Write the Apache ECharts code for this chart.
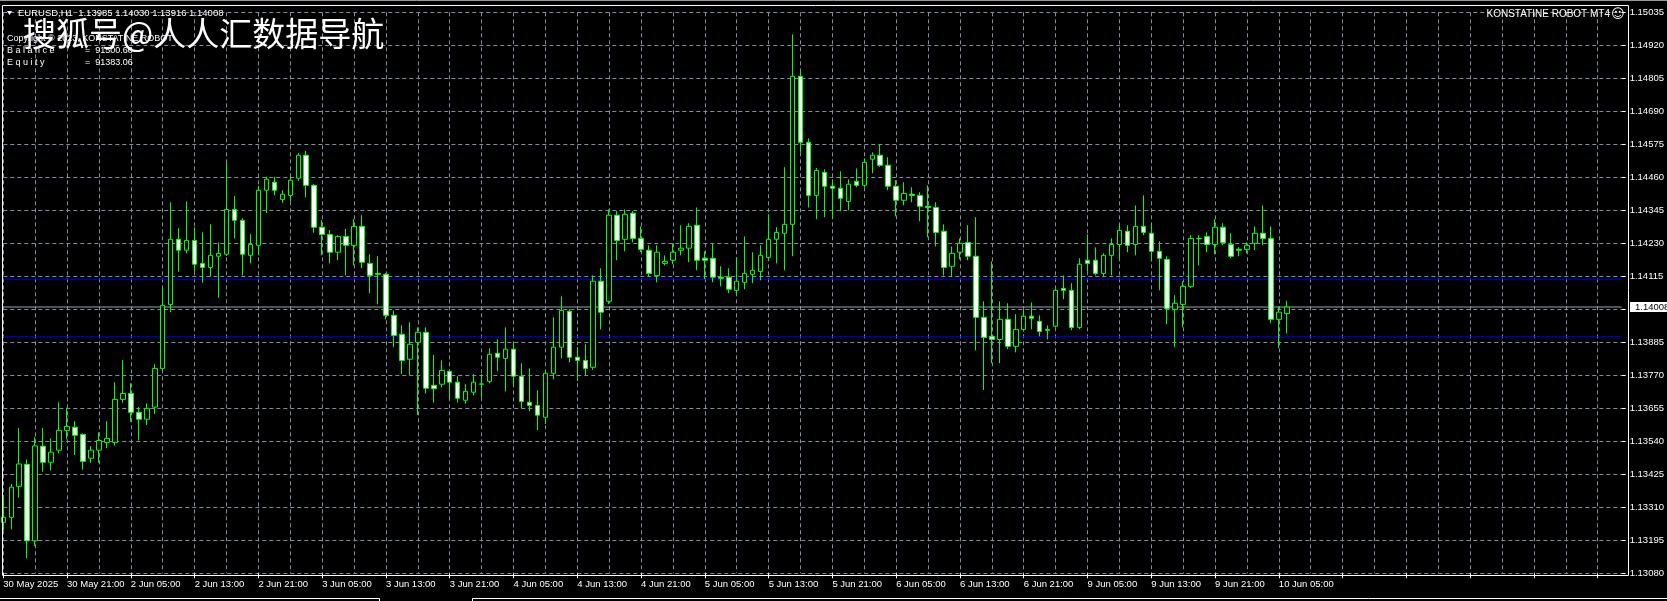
<!DOCTYPE html>
<html><head><meta charset="utf-8">
<script src="https://cdn.jsdelivr.net/npm/echarts@6/dist/echarts.min.js"></script>
<style>html,body{margin:0;padding:0;background:#000;overflow:hidden}#c{width:1667px;height:601px;}</style>
</head><body><div id="c"></div>
<script>
// ---- data (EURUSD H1, 30 May 2025 13:00 .. 10 Jun 2025 06:00) ----
const tickLabels = ['30 May 2025','30 May 21:00','2 Jun 05:00','2 Jun 13:00','2 Jun 21:00','3 Jun 05:00','3 Jun 13:00','3 Jun 21:00','4 Jun 05:00','4 Jun 13:00','4 Jun 21:00','5 Jun 05:00','5 Jun 13:00','5 Jun 21:00','6 Jun 05:00','6 Jun 13:00','6 Jun 21:00','9 Jun 05:00','9 Jun 13:00','9 Jun 21:00','10 Jun 05:00'];

const open = [1.13258,1.13275,1.13383,1.13460,1.13193,1.13523,1.13467,1.13509,1.13578,1.13589,
1.13564,1.13481,1.13509,1.13536,1.13536,1.13686,1.13707,1.13641,1.13617,1.13659,
1.13794,1.14017,1.14244,1.14206,1.14240,1.14160,1.14146,1.14185,1.14192,1.14348,
1.14310,1.14188,1.14223,1.14415,1.14443,1.14383,1.14397,1.14457,1.14537,1.14432,
1.14286,1.14261,1.14199,1.14254,1.14223,1.14289,1.14160,1.14125,1.14122,1.13979,
1.13913,1.13826,1.13885,1.13920,1.13735,1.13739,1.13784,1.13746,1.13683,1.13711,
1.13739,1.13749,1.13847,1.13829,1.13861,1.13767,1.13676,1.13665,1.13624,1.13777,
1.13868,1.13993,1.13833,1.13822,1.13798,1.14098,1.14028,1.14328,1.14244,1.14335,
1.14247,1.14206,1.14118,1.14160,1.14171,1.14206,1.14213,1.14293,1.14178,1.14178,
1.14112,1.14112,1.14066,1.14094,1.14122,1.14132,1.14181,1.14244,1.14265,1.14296,
1.14812,1.14582,1.14397,1.14477,1.14429,1.14422,1.14376,1.14446,1.14432,1.14523,
1.14537,1.14502,1.14429,1.14380,1.14401,1.14397,1.14359,1.14355,1.14272,1.14150,
1.14199,1.14233,1.14185,1.13972,1.13906,1.13895,1.13965,1.13871,1.13930,1.13976,
1.13958,1.13930,1.13941,1.14073,1.14066,1.13937,1.14171,1.14171,1.14125,1.14188,
1.14226,1.14272,1.14226,1.14289,1.14265,1.14202,1.14174,1.14000,1.14017,1.14080,
1.14247,1.14254,1.14226,1.14286,1.14226,1.14209,1.14209,1.14230,1.14265,1.14247,
1.13965,1.13985];

const high = [1.13353,1.13391,1.13586,1.13477,1.13554,1.13586,1.13550,1.13676,1.13657,1.13610,
1.13568,1.13523,1.13571,1.13610,1.13746,1.13823,1.13742,1.13659,1.13672,1.13808,
1.14077,1.14373,1.14282,1.14376,1.14286,1.14268,1.14296,1.14233,1.14509,1.14395,
1.14317,1.14262,1.14430,1.14462,1.14462,1.14415,1.14462,1.14544,1.14552,1.14437,
1.14311,1.14276,1.14258,1.14280,1.14314,1.14328,1.14192,1.14185,1.14126,1.13996,
1.13944,1.13955,1.13937,1.13937,1.13841,1.13822,1.13789,1.13767,1.13739,1.13774,
1.13774,1.13864,1.13895,1.13937,1.13885,1.13812,1.13794,1.13718,1.13784,1.13972,
1.14045,1.14000,1.13868,1.13878,1.14118,1.14143,1.14348,1.14342,1.14348,1.14342,
1.14289,1.14223,1.14223,1.14188,1.14230,1.14293,1.14300,1.14355,1.14202,1.14230,
1.14150,1.14143,1.14181,1.14254,1.14199,1.14223,1.14331,1.14286,1.14495,1.14958,
1.14829,1.14596,1.14492,1.14488,1.14453,1.14481,1.14453,1.14491,1.14526,1.14547,
1.14575,1.14530,1.14450,1.14443,1.14425,1.14408,1.14432,1.14373,1.14296,1.14219,
1.14247,1.14293,1.14321,1.14028,1.14167,1.14028,1.14021,1.13983,1.14000,1.14024,
1.13979,1.13944,1.14071,1.14118,1.14091,1.14178,1.14261,1.14216,1.14195,1.14247,
1.14296,1.14293,1.14362,1.14397,1.14300,1.14237,1.14185,1.14049,1.14098,1.14258,
1.14258,1.14268,1.14314,1.14300,1.14265,1.14216,1.14233,1.14289,1.14362,1.14289,
1.14010,1.14030];

const low = [1.13231,1.13233,1.13343,1.13133,1.13175,1.13434,1.13438,1.13498,1.13547,1.13492,
1.13441,1.13465,1.13465,1.13516,1.13525,1.13675,1.13608,1.13543,1.13597,1.13635,
1.13789,1.13990,1.14131,1.14195,1.14131,1.14093,1.14114,1.14040,1.14186,1.14247,
1.14118,1.14160,1.14188,1.14335,1.14397,1.14371,1.14376,1.14448,1.14390,1.14267,
1.14188,1.14160,1.14171,1.14118,1.14153,1.14143,1.14056,1.14017,1.13965,1.13868,
1.13774,1.13770,1.13632,1.13707,1.13675,1.13728,1.13688,1.13675,1.13671,1.13700,
1.13693,1.13742,1.13784,1.13714,1.13735,1.13655,1.13645,1.13579,1.13600,1.13756,
1.13829,1.13815,1.13749,1.13770,1.13789,1.13930,1.14018,1.14171,1.14202,1.14233,
1.14199,1.14115,1.14094,1.14153,1.14157,1.14188,1.14164,1.14136,1.14105,1.14094,
1.14080,1.14056,1.14052,1.14070,1.14091,1.14101,1.14175,1.14160,1.14136,1.14185,
1.14547,1.14355,1.14314,1.14321,1.14317,1.14342,1.14345,1.14425,1.14425,1.14474,
1.14496,1.14415,1.14324,1.14362,1.14373,1.14307,1.14251,1.14219,1.14118,1.14112,
1.14174,1.14171,1.13857,1.13719,1.13812,1.13812,1.13861,1.13850,1.13923,1.13930,
1.13906,1.13895,1.13937,1.14035,1.13927,1.13931,1.14132,1.14118,1.14112,1.14118,
1.14174,1.14199,1.14188,1.14258,1.14167,1.14066,1.13948,1.13868,1.13937,1.14074,
1.14153,1.14199,1.14192,1.14223,1.14178,1.14185,1.14195,1.14206,1.14223,1.13951,
1.13865,1.13916];

const close = [1.13275,1.13380,1.13461,1.13193,1.13524,1.13467,1.13502,1.13578,1.13592,1.13561,
1.13470,1.13509,1.13543,1.13550,1.13686,1.13707,1.13641,1.13617,1.13655,1.13794,
1.14014,1.14244,1.14206,1.14240,1.14157,1.14146,1.14188,1.14195,1.14348,1.14310,
1.14192,1.14226,1.14415,1.14453,1.14415,1.14401,1.14450,1.14537,1.14432,1.14286,
1.14261,1.14199,1.14254,1.14223,1.14289,1.14164,1.14118,1.14122,1.13979,1.13909,
1.13822,1.13878,1.13920,1.13725,1.13723,1.13787,1.13746,1.13690,1.13714,1.13746,
1.13740,1.13843,1.13833,1.13861,1.13767,1.13679,1.13665,1.13631,1.13777,1.13868,
1.13996,1.13833,1.13822,1.13794,1.14098,1.13990,1.14328,1.14240,1.14331,1.14247,
1.14209,1.14125,1.14199,1.14167,1.14199,1.14213,1.14289,1.14171,1.14171,1.14112,
1.14108,1.14070,1.14098,1.14125,1.14136,1.14188,1.14244,1.14268,1.14296,1.14812,
1.14582,1.14397,1.14484,1.14429,1.14422,1.14387,1.14436,1.14432,1.14512,1.14537,
1.14502,1.14429,1.14380,1.14404,1.14397,1.14359,1.14355,1.14268,1.14146,1.14195,
1.14230,1.14185,1.13972,1.13902,1.13895,1.13965,1.13871,1.13930,1.13976,1.13969,
1.13923,1.13927,1.14066,1.14066,1.13937,1.14157,1.14160,1.14125,1.14188,1.14226,
1.14275,1.14223,1.14289,1.14268,1.14202,1.14178,1.14003,1.14021,1.14080,1.14247,
1.14246,1.14226,1.14286,1.14233,1.14185,1.14206,1.14223,1.14265,1.14247,1.13965,
1.13990,1.14008];

const levelLines = [1.14105, 1.13904];   // blue horizontal lines
const yMin = 1.13080, yMax = 1.15035, yStep = 0.00115;
const emptyBars = 42;                      // chart shift space on the right
const symbolName = 'EURUSD,H1';
const watermark = '搜狐号@人人汇数据导航';
const copyrightText = 'Copyright © 2023, KONSTATINE ROBOT';
const balanceText = '91500.60';
const equityText = '91383.06';
const robotText = 'KONSTATINE ROBOT MT4';

// ---- build ----
const FONT = "'Liberation Sans', Arial, sans-serif";
const FS = 9.5;
const lastIdx = close.length - 1;
const categories = Array.from({length: close.length + emptyBars}, (_, i) => 'b' + i);
const ohlc = open.map((o, i) => [o, close[i], low[i], high[i]]);
const gridColor = '#7f8ea0';
const firstCat = categories[0], lastCat = categories[categories.length - 1];

function levelSeries(value, color) {
  return {
    type: 'line', data: [[firstCat, value], [lastCat, value]],
    symbol: 'none', silent: true, z: 1, animation: false,
    lineStyle: {color: color, width: 1, type: 'solid'}
  };
}

const chart = echarts.init(document.getElementById('c'), null, {renderer: 'canvas'});
chart.setOption({
  backgroundColor: '#000000',
  animation: false,
  grid: {left: 3.3, top: 12.3, width: 8 * (categories.length - 1), height: 561},
  xAxis: {
    type: 'category', data: categories, boundaryGap: false,
    axisLine: {show: false},
    axisTick: {show: true, interval: 7, length: 5, lineStyle: {color: '#ffffff'}},
    axisLabel: {
      interval: 7, color: '#ffffff', fontSize: FS, fontFamily: FONT, align: 'left', margin: 6,
      formatter: (v, i) => (i % 8 === 0 && tickLabels[i / 8]) ? tickLabels[i / 8] : ''
    },
    splitLine: {show: true, interval: 3, lineStyle: {color: gridColor, type: [4, 3], width: 1}}
  },
  yAxis: {
    type: 'value', position: 'right', min: yMin, max: yMax, interval: yStep, scale: true,
    axisLine: {show: false},
    axisTick: {show: true, length: 4, lineStyle: {color: '#ffffff'}},
    axisLabel: {color: '#ffffff', fontSize: FS, fontFamily: FONT, margin: 8, formatter: v => v.toFixed(5)},
    splitLine: {show: true, lineStyle: {color: gridColor, type: [4, 3], width: 1}}
  },
  series: [
    levelSeries(levelLines[0], '#0000ff'),
    levelSeries(levelLines[1], '#0000ff'),
    levelSeries(close[lastIdx], '#97a3b0'),
    {
      type: 'candlestick',
      data: ohlc,
      barWidth: 5,
      z: 3,
      itemStyle: {
        color: '#000000', color0: '#ffffff',
        borderColor: '#00ff00', borderColor0: '#00ff00', borderColorDoji: '#00ff00',
        borderWidth: 1
      }
    }
  ]
});

const pY = chart.convertToPixel({yAxisIndex: 0}, close[lastIdx]);
const txt = (id, x, y, text, extra) => Object.assign({
  id, type: 'text', x, y, z: 150,
  style: Object.assign({text, fill: '#ffffff', font: FS + 'px ' + FONT, verticalAlign: 'middle'}, extra || {})
});
chart.setOption({
  graphic: [
    {id: 'topline', type: 'line', shape: {x1: 0, y1: 0.5, x2: 1667, y2: 0.5}, style: {stroke: '#9a9a9a', lineWidth: 1}, z: 140},
    {id: 'frame', type: 'rect', shape: {x: 2.5, y: 5.5, width: 1626, height: 570}, style: {fill: null, stroke: '#ffffff', lineWidth: 1}, z: 140},
    {id: 'tri', type: 'polygon', shape: {points: [[7, 11], [12, 11], [9.5, 15]]}, style: {fill: '#ffffff'}, z: 150},
    txt('hdr', 18, 13.5, symbolName + '  ' + [open[lastIdx], high[lastIdx], low[lastIdx], close[lastIdx]].map(v => v.toFixed(5)).join(' ')),
    txt('copy', 7, 38.5, copyrightText, {font: '9px ' + FONT}),
    txt('bal', 7, 51, 'B a l a n c e', {font: '9px ' + FONT}),
    txt('bal2', 85, 51, '=  ' + balanceText, {font: '9px ' + FONT}),
    txt('eq', 7, 62.5, 'E q u i t y', {font: '9px ' + FONT}),
    txt('eq2', 85, 62.5, '=  ' + equityText, {font: '9px ' + FONT}),
    txt('wm', 23, 33, watermark, {font: "33px 'Noto Sans CJK SC', sans-serif"}),
    txt('robot', 1610, 14.5, robotText, {align: 'right', font: '10px ' + FONT}),
    txt('smile', 1611, 14.5, '☺', {font: "13px 'DejaVu Sans'"}),
    {id: 'pbox', type: 'rect', shape: {x: 1630, y: Math.round(pY) - 5, width: 37, height: 10}, style: {fill: '#ffffff'}, z: 160},
    Object.assign(txt('ptxt', 1635, Math.round(pY), close[lastIdx].toFixed(5), {fill: '#000000'}), {z: 170}),
    {id: 'tab1', type: 'polyline', shape: {points: [[0, 598.5], [379.5, 598.5], [379.5, 601]]}, style: {stroke: '#ffffff', fill: null, lineWidth: 1}, z: 140},
    {id: 'tab2', type: 'polyline', shape: {points: [[472.5, 601], [472.5, 598.5], [1667, 598.5]]}, style: {stroke: '#ffffff', fill: null, lineWidth: 1}, z: 140}
  ]
});
</script>
</body></html>
